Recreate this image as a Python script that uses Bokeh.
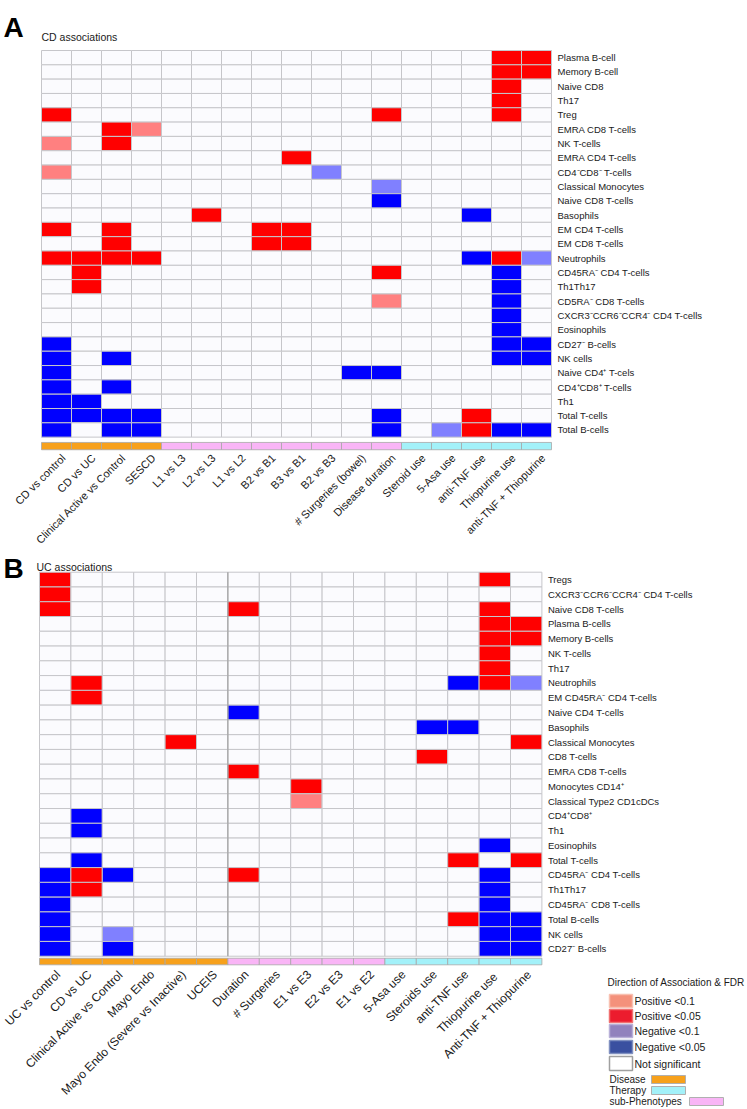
import math
from bokeh.plotting import figure
from bokeh.models import Range1d
from bokeh.layouts import column
from bokeh.embed import file_html
from bokeh.resources import INLINE
from bokeh.core.properties import value

FONT = "Liberation Sans"

# ---------------- Panel A: CD associations ----------------
cd_columns = ["CD vs control", "CD vs UC", "Clinical Active vs Control", "SESCD",
              "L1 vs L3", "L2 vs L3", "L1 vs L2", "B2 vs B1", "B3 vs B1", "B2 vs B3",
              "# Surgeries (bowel)", "Disease duration",
              "Steroid use", "5-Asa use", "anti-TNF use", "Thiopurine use",
              "anti-TNF + Thiopurine"]
cd_groups = ["Disease", "Disease", "Disease", "Disease",
             "sub-Phenotypes", "sub-Phenotypes", "sub-Phenotypes", "sub-Phenotypes",
             "sub-Phenotypes", "sub-Phenotypes", "sub-Phenotypes", "sub-Phenotypes",
             "Therapy", "Therapy", "Therapy", "Therapy", "Therapy"]
cd_rows = ["Plasma B-cell", "Memory B-cell", "Naive CD8", "Th17", "Treg",
           "EMRA CD8 T-cells", "NK T-cells", "EMRA CD4 T-cells", "CD4\u207bCD8\u207b T-cells",
           "Classical Monocytes", "Naive CD8 T-cells", "Basophils", "EM CD4 T-cells",
           "EM CD8 T-cells", "Neutrophils", "CD45RA\u207b CD4 T-cells", "Th1Th17",
           "CD5RA\u207b CD8 T-cells", "CXCR3\u207bCCR6\u207bCCR4\u207b CD4 T-cells", "Eosinophils",
           "CD27\u207b B-cells", "NK cells", "Naive CD4\u207a T-cels", "CD4\u207aCD8\u207a T-cells",
           "Th1", "Total T-cells", "Total B-cells"]
# 2 = positive FDR<0.05, 1 = positive FDR<0.1, 0 = n.s., -1 = negative FDR<0.1, -2 = negative FDR<0.05
cd_values = [
    [0, 0, 0, 0, 0, 0, 0, 0, 0, 0, 0, 0, 0, 0, 0, 2, 2],
    [0, 0, 0, 0, 0, 0, 0, 0, 0, 0, 0, 0, 0, 0, 0, 2, 2],
    [0, 0, 0, 0, 0, 0, 0, 0, 0, 0, 0, 0, 0, 0, 0, 2, 0],
    [0, 0, 0, 0, 0, 0, 0, 0, 0, 0, 0, 0, 0, 0, 0, 2, 0],
    [2, 0, 0, 0, 0, 0, 0, 0, 0, 0, 0, 2, 0, 0, 0, 2, 0],
    [0, 0, 2, 1, 0, 0, 0, 0, 0, 0, 0, 0, 0, 0, 0, 0, 0],
    [1, 0, 2, 0, 0, 0, 0, 0, 0, 0, 0, 0, 0, 0, 0, 0, 0],
    [0, 0, 0, 0, 0, 0, 0, 0, 2, 0, 0, 0, 0, 0, 0, 0, 0],
    [1, 0, 0, 0, 0, 0, 0, 0, 0, -1, 0, 0, 0, 0, 0, 0, 0],
    [0, 0, 0, 0, 0, 0, 0, 0, 0, 0, 0, -1, 0, 0, 0, 0, 0],
    [0, 0, 0, 0, 0, 0, 0, 0, 0, 0, 0, -2, 0, 0, 0, 0, 0],
    [0, 0, 0, 0, 0, 2, 0, 0, 0, 0, 0, 0, 0, 0, -2, 0, 0],
    [2, 0, 2, 0, 0, 0, 0, 2, 2, 0, 0, 0, 0, 0, 0, 0, 0],
    [0, 0, 2, 0, 0, 0, 0, 2, 2, 0, 0, 0, 0, 0, 0, 0, 0],
    [2, 2, 2, 2, 0, 0, 0, 0, 0, 0, 0, 0, 0, 0, -2, 2, -1],
    [0, 2, 0, 0, 0, 0, 0, 0, 0, 0, 0, 2, 0, 0, 0, -2, 0],
    [0, 2, 0, 0, 0, 0, 0, 0, 0, 0, 0, 0, 0, 0, 0, -2, 0],
    [0, 0, 0, 0, 0, 0, 0, 0, 0, 0, 0, 1, 0, 0, 0, -2, 0],
    [0, 0, 0, 0, 0, 0, 0, 0, 0, 0, 0, 0, 0, 0, 0, -2, 0],
    [0, 0, 0, 0, 0, 0, 0, 0, 0, 0, 0, 0, 0, 0, 0, -2, 0],
    [-2, 0, 0, 0, 0, 0, 0, 0, 0, 0, 0, 0, 0, 0, 0, -2, -2],
    [-2, 0, -2, 0, 0, 0, 0, 0, 0, 0, 0, 0, 0, 0, 0, -2, -2],
    [-2, 0, 0, 0, 0, 0, 0, 0, 0, 0, -2, -2, 0, 0, 0, 0, 0],
    [-2, 0, -2, 0, 0, 0, 0, 0, 0, 0, 0, 0, 0, 0, 0, 0, 0],
    [-2, -2, 0, 0, 0, 0, 0, 0, 0, 0, 0, 0, 0, 0, 0, 0, 0],
    [-2, -2, -2, -2, 0, 0, 0, 0, 0, 0, 0, -2, 0, 0, 2, 0, 0],
    [-2, 0, -2, -2, 0, 0, 0, 0, 0, 0, 0, -2, 0, -1, 2, -2, -2],
]

# ---------------- Panel B: UC associations ----------------
uc_columns = ["UC vs control", "CD vs UC", "Clinical Active vs Control", "Mayo Endo",
              "Mayo Endo (Severe vs Inactive)", "UCEIS", "Duration", "# Surgeries",
              "E1 vs E3", "E2 vs E3", "E1 vs E2", "5-Asa use", "Steroids use",
              "anti-TNF use", "Thiopurine  use", "Anti-TNF + Thiopurine"]
uc_groups = ["Disease", "Disease", "Disease", "Disease", "Disease", "Disease",
             "sub-Phenotypes", "sub-Phenotypes", "sub-Phenotypes", "sub-Phenotypes",
             "sub-Phenotypes",
             "Therapy", "Therapy", "Therapy", "Therapy", "Therapy"]
uc_rows = ["Tregs", "CXCR3\u207bCCR6\u207bCCR4\u207b CD4 T-cells", "Naive CD8 T-cells",
           "Plasma B-cells", "Memory B-cells", "NK T-cells", "Th17", "Neutrophils",
           "EM CD45RA\u207b CD4 T-cells", "Naive CD4 T-cells", "Basophils",
           "Classical Monocytes", "CD8 T-cells", "EMRA CD8 T-cells", "Monocytes CD14\u207a",
           "Classical Type2 CD1cDCs", "CD4\u207aCD8\u207a", "Th1", "Eosinophils", "Total T-cells",
           "CD45RA\u207b CD4 T-cells", "Th1Th17", "CD45RA\u207b CD8 T-cells", "Total B-cells",
           "NK cells", "CD27\u207b B-cells"]
uc_values = [
    [2, 0, 0, 0, 0, 0, 0, 0, 0, 0, 0, 0, 0, 0, 2, 0],
    [2, 0, 0, 0, 0, 0, 0, 0, 0, 0, 0, 0, 0, 0, 0, 0],
    [2, 0, 0, 0, 0, 0, 2, 0, 0, 0, 0, 0, 0, 0, 2, 0],
    [0, 0, 0, 0, 0, 0, 0, 0, 0, 0, 0, 0, 0, 0, 2, 2],
    [0, 0, 0, 0, 0, 0, 0, 0, 0, 0, 0, 0, 0, 0, 2, 2],
    [0, 0, 0, 0, 0, 0, 0, 0, 0, 0, 0, 0, 0, 0, 2, 0],
    [0, 0, 0, 0, 0, 0, 0, 0, 0, 0, 0, 0, 0, 0, 2, 0],
    [0, 2, 0, 0, 0, 0, 0, 0, 0, 0, 0, 0, 0, -2, 2, -1],
    [0, 2, 0, 0, 0, 0, 0, 0, 0, 0, 0, 0, 0, 0, 0, 0],
    [0, 0, 0, 0, 0, 0, -2, 0, 0, 0, 0, 0, 0, 0, 0, 0],
    [0, 0, 0, 0, 0, 0, 0, 0, 0, 0, 0, 0, -2, -2, 0, 0],
    [0, 0, 0, 0, 2, 0, 0, 0, 0, 0, 0, 0, 0, 0, 0, 2],
    [0, 0, 0, 0, 0, 0, 0, 0, 0, 0, 0, 0, 2, 0, 0, 0],
    [0, 0, 0, 0, 0, 0, 2, 0, 0, 0, 0, 0, 0, 0, 0, 0],
    [0, 0, 0, 0, 0, 0, 0, 0, 2, 0, 0, 0, 0, 0, 0, 0],
    [0, 0, 0, 0, 0, 0, 0, 0, 1, 0, 0, 0, 0, 0, 0, 0],
    [0, -2, 0, 0, 0, 0, 0, 0, 0, 0, 0, 0, 0, 0, 0, 0],
    [0, -2, 0, 0, 0, 0, 0, 0, 0, 0, 0, 0, 0, 0, 0, 0],
    [0, 0, 0, 0, 0, 0, 0, 0, 0, 0, 0, 0, 0, 0, -2, 0],
    [0, -2, 0, 0, 0, 0, 0, 0, 0, 0, 0, 0, 0, 2, 0, 2],
    [-2, 2, -2, 0, 0, 0, 2, 0, 0, 0, 0, 0, 0, 0, -2, 0],
    [-2, 2, 0, 0, 0, 0, 0, 0, 0, 0, 0, 0, 0, 0, -2, 0],
    [-2, 0, 0, 0, 0, 0, 0, 0, 0, 0, 0, 0, 0, 0, -2, 0],
    [-2, 0, 0, 0, 0, 0, 0, 0, 0, 0, 0, 0, 0, 2, -2, -2],
    [-2, 0, -1, 0, 0, 0, 0, 0, 0, 0, 0, 0, 0, 0, -2, -2],
    [-2, 0, -2, 0, 0, 0, 0, 0, 0, 0, 0, 0, 0, 0, -2, -2],
]

# ---------------- Legend ----------------
legend_labels = ["Positive <0.1", "Positive <0.05", "Negative <0.1", "Negative <0.05",
                 "Not significant"]
legend_colors = ["#f4917b", "#ec1c2e", "#9182bd", "#3a50a0", "#ffffff"]
legend_group_labels = ["Disease", "Therapy", "sub-Phenotypes"]

level_colors = {2: "#ff0000", 1: "#ff8080", 0: "#fbfbfe", -1: "#8080ff", -2: "#0000ff"}
group_colors = {"Disease": "#f7a11c", "sub-Phenotypes": "#f9b5f6", "Therapy": "#a3f1f9"}

PAGE_W = 747
TXT = "#1a1a1a"


def make_panel(columns, groups, rows, values, g, letter, title):
    cw, rh = g["cw"], g["rh"]

    def ux(px):
        return (px - g["left"]) / cw

    def uy(py):
        return (py - g["top"]) / rh

    p = figure(width=PAGE_W, height=g["h"],
               x_range=Range1d(ux(0), ux(PAGE_W)),
               y_range=Range1d(uy(g["y0"] + g["h"]), uy(g["y0"])),
               output_backend="svg", toolbar_location=None,
               x_axis_location=None, y_axis_location=None, min_border=0)
    p.outline_line_color = None
    p.grid.visible = False
    p.background_fill_color = "white"
    p.border_fill_color = "white"

    ncol, nrow = len(columns), len(rows)
    xs, ys, cs = [], [], []
    for r, row_vals in enumerate(values):
        for c, v in enumerate(row_vals):
            xs.append(c + 0.5)
            ys.append(r + 0.5)
            cs.append(level_colors[v])
    p.rect(x=xs, y=ys, width=1, height=1, fill_color=cs,
           line_color="#c6c6ca", line_width=1)

    # darker separator where the Disease block ends (panel B style)
    if g.get("sep"):
        b = groups.index("sub-Phenotypes")
        p.segment(x0=[b], y0=[0], x1=[b], y1=[nrow], line_color="#9a9a9a", line_width=1)

    # category bar
    bt = nrow + g["bar_gap"] / rh
    bb = bt + g["bar_h"] / rh
    p.quad(left=list(range(ncol)), right=[c + 1 for c in range(ncol)],
           top=[bt] * ncol, bottom=[bb] * ncol,
           fill_color=[group_colors[gr] for gr in groups],
           line_color="#a8a8a8", line_alpha=0.8, line_width=1)

    # row labels
    p.text(x=[ncol + g["row_lab_dx"] / cw] * nrow, y=[r + 0.5 for r in range(nrow)],
           text=rows, text_font=value(FONT), text_font_size="9.5px",
           text_align="left", text_baseline="middle", text_color=TXT)

    # column labels
    p.text(x=[c + 0.5 + g["col_lab_dx"] / cw for c in range(ncol)],
           y=[uy(g["col_lab_y"])] * ncol, text=columns, angle=math.pi / 4,
           text_font=value(FONT), text_font_size=g["col_font"],
           text_align="right", text_baseline="middle", text_color=TXT)

    # panel letter and title
    p.text(x=[ux(g["letter_x"])], y=[uy(g["letter_y"])], text=[letter],
           text_font=value(FONT), text_font_style="bold", text_font_size="28px",
           text_align="left", text_baseline="alphabetic", text_color="black")
    p.text(x=[ux(g["title_x"])], y=[uy(g["title_y"])], text=[title],
           text_font=value(FONT), text_font_size="10.5px",
           text_align="left", text_baseline="alphabetic", text_color=TXT)
    return p, ux, uy


geomA = dict(left=41, top=50, cw=30, rh=14.32, y0=0, h=546,
             bar_gap=5.3, bar_h=7.3, row_lab_dx=6, col_lab_dx=7, col_lab_y=455.5,
             col_font="11px", letter_x=3, letter_y=27, title_x=41, title_y=36.5, sep=False)
geomB = dict(left=39, top=571.7, cw=31.4, rh=14.77, y0=546, h=563,
             bar_gap=2, bar_h=6.6, row_lab_dx=6, col_lab_dx=3, col_lab_y=972,
             col_font="12px", letter_x=3, letter_y=567.5, title_x=36, title_y=566, sep=True)

pA, _, _ = make_panel(cd_columns, cd_groups, cd_rows, cd_values, geomA, "A", "CD associations")
pB, bx, by = make_panel(uc_columns, uc_groups, uc_rows, uc_values, geomB, "B", "UC associations")

# legend (drawn inside panel B, positions in page pixels)
pB.text(x=[bx(607)], y=[by(982.3)], text=["Direction of Association & FDR"],
        text_font=value(FONT), text_font_size="10px", text_align="left",
        text_baseline="middle", text_color=TXT)
sw_tops = [994, 1009, 1024, 1040, 1056]
sw_bots = [1007, 1022, 1037, 1053, 1070]
pB.quad(left=[bx(609)] * 5, right=[bx(632)] * 5, top=[by(t) for t in sw_tops],
        bottom=[by(b) for b in sw_bots], fill_color=legend_colors,
        line_color=["#f8c0b0", "#f07070", "#b8b0d8", "#8090c0", "#a0a0a0"], line_width=1.5)
pB.text(x=[bx(634)] * 5, y=[by((t + b) / 2) for t, b in zip(sw_tops, sw_bots)],
        text=legend_labels, text_font=value(FONT), text_font_size="10.5px",
        text_align="left", text_baseline="middle", text_color=TXT)
g_y = [1079, 1090, 1101]
g_left = [651, 651, 689]
pB.quad(left=[bx(v) for v in g_left], right=[bx(v + 34) for v in g_left],
        top=[by(v - 4) for v in g_y], bottom=[by(v + 4) for v in g_y],
        fill_color=[group_colors[k] for k in legend_group_labels],
        line_color="#b0b0b0", line_width=1)
pB.text(x=[bx(609)] * 3, y=[by(v) for v in g_y], text=legend_group_labels,
        text_font=value(FONT), text_font_size="10px", text_align="left",
        text_baseline="middle", text_color=TXT)

layout = column(pA, pB, spacing=0)
open("out.html", "w").write(file_html(layout, INLINE))
